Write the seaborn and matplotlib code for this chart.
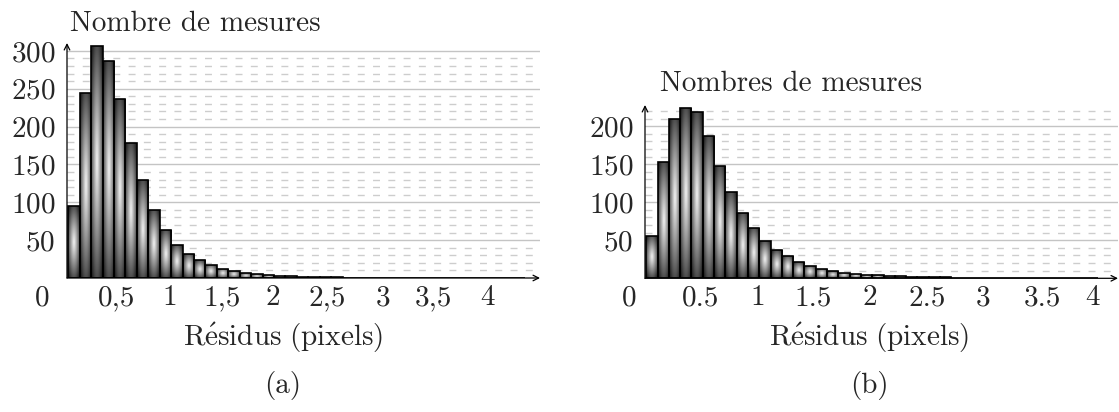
"""
Histogrammes des résidus de reprojection (deux jeux de mesures).
"""
import numpy as np
import pandas as pd
import matplotlib
matplotlib.use("Agg")
import matplotlib.pyplot as plt
import matplotlib.transforms as mtransforms
from matplotlib.ticker import FixedLocator
import seaborn as sns

sns.set_style("white")
plt.rcParams["font.family"] = ["cmr10", "DejaVu Serif"]
plt.rcParams["mathtext.fontset"] = "cm"
plt.rcParams["axes.formatter.use_mathtext"] = True

# Bins of 0.1 pixel from 0 to 4
bin_edges = np.round(np.linspace(0, 4, 41), 2)
bin_centers = (bin_edges[:-1] + bin_edges[1:]) / 2

counts_a = [95, 245, 306, 287, 237, 178, 129, 90, 63.5, 44,
            32, 23.4, 17.4, 12.4, 9.3, 6.6, 5.1, 4, 3.1, 2.5,
            1.8, 1.3, 1, 0.8, 0.6, 0.5, 0.4, 0.3, 0.3, 0.2,
            0.2, 0.2, 0.1, 0.1, 0.1, 0.1, 0.1, 0.1, 0.1, 0.1]
counts_b = [55.7, 152.6, 210, 223.7, 219.3, 187.7, 147.4, 113.2, 86.4, 65.8,
            49.6, 36.8, 29, 20.8, 16, 12.3, 9.2, 7.5, 6, 4.8,
            3.9, 3.1, 2.6, 2.2, 1.8, 1.4, 1.1, 0.9, 0.7, 0.6,
            0.5, 0.4, 0.3, 0.3, 0.2, 0.2, 0.2, 0.1, 0.1, 0.1]

xtick_labels_a = ["0", "0,5", "1", "1,5", "2", "2,5", "3", "3,5", "4"]
xtick_labels_b = ["0", "0.5", "1", "1.5", "2", "2.5", "3", "3.5", "4"]
ytick_values_a = [50, 100, 150, 200, 250, 300]
ytick_values_b = [50, 100, 150, 200]

# where the x labels sit along each axis (they do not follow the bins)
xtick_pos_a = [-0.23, 0.426, 0.89, 1.346, 1.791, 2.264, 2.754, 3.191, 3.664]
xtick_pos_b = [-0.15, 0.485, 0.989, 1.474, 1.977, 2.489, 2.983, 3.504, 3.945]

FS = 21

# "ball" style shading used for every bar
u = np.linspace(-1, 1, 40)
v = np.linspace(-1, 1, 80)
U, V = np.meshgrid(u, v)
shade = np.clip(0.97 - 0.66 * np.sqrt(U ** 2 + V ** 2), 0.12, 1)


def draw_panel(ax, counts, ymax, xmax, yticks, minor_top, xlabels, xpos):
    df = pd.DataFrame({"residu": bin_centers, "n": counts})
    sns.histplot(data=df, x="residu", weights="n", binwidth=0.1,
                 binrange=(0, 4), ax=ax, color="0.5", edgecolor="black",
                 linewidth=1.2, alpha=1)
    for patch in ax.patches:
        h = patch.get_height()
        if h <= 0:
            continue
        x0, w = patch.get_x(), patch.get_width()
        im = ax.imshow(shade, cmap="gray", vmin=0, vmax=1, aspect="auto",
                       extent=[x0, x0 + w, 0, h], interpolation="bicubic",
                       zorder=2.5)
        im.set_clip_path(patch)
        patch.set_facecolor("none")
        patch.set_zorder(3)

    ax.set_xlim(-0.011, xmax)
    ax.set_ylim(0, ymax)
    ax.set_xlabel("")
    ax.set_ylabel("")

    # grid: solid every 50, dashed every 10
    ax.set_yticks(yticks)
    ax.yaxis.set_minor_locator(FixedLocator(list(range(10, minor_top + 1, 10))))
    ax.set_axisbelow(True)
    ax.grid(which="major", axis="y", color="#c4c4c4", lw=1.0, ls="-")
    ax.grid(which="minor", axis="y", color="#cdcdcd", lw=1.0, ls=(0, (5, 6)))
    ax.tick_params(axis="y", which="both", length=0, pad=8.5, labelsize=FS)
    ax.set_xticks([])
    for s in ax.spines.values():
        s.set_visible(False)

    # axes with arrow heads
    arrow = dict(arrowstyle="->", lw=0.9, color="black", shrinkA=0, shrinkB=0)
    ax.annotate("", xy=(1, 0), xytext=(0, 0), xycoords="axes fraction",
                arrowprops=arrow, annotation_clip=False)
    ax.annotate("", xy=(0, 1), xytext=(0, 0), xycoords="axes fraction",
                arrowprops=arrow, annotation_clip=False)

    trans = mtransforms.blended_transform_factory(ax.transData, ax.transAxes)
    trans = mtransforms.offset_copy(trans, fig=ax.figure, y=-20, units="dots")
    for lab, xp in zip(xlabels, xpos):
        ax.text(xp, 0, lab, transform=trans, ha="center", va="center",
                fontsize=FS, clip_on=False)


W, H = 1119, 412
fig = plt.figure(figsize=(W / 100, H / 100), dpi=100)
ax_a = fig.add_axes([67 / W, 134 / H, 473 / W, 235 / H])
ax_b = fig.add_axes([645 / W, 133.7 / H, 473 / W, 173.3 / H])

draw_panel(ax_a, counts_a, 310.4, 4.127, ytick_values_a, 290,
           xtick_labels_a, xtick_pos_a)
draw_panel(ax_b, counts_b, 228, 4.175, ytick_values_b, 220,
           xtick_labels_b, xtick_pos_b)

fig.text(70 / W, 1 - 24 / H, "Nombre de mesures", ha="left", va="center", fontsize=FS)
fig.text(660 / W, 1 - 84 / H, "Nombres de mesures", ha="left", va="center", fontsize=FS)
for cx, cap in [(283, "(a)"), (869, "(b)")]:
    fig.text(cx / W, 1 - 338 / H, r"$\mathrm{R\acute{e}sidus\ (pixels)}$",
             ha="center", va="center", fontsize=FS)
    fig.text(cx / W, 1 - 385 / H, cap, ha="center", va="center", fontsize=FS)

fig.savefig("out.png", dpi=100)
